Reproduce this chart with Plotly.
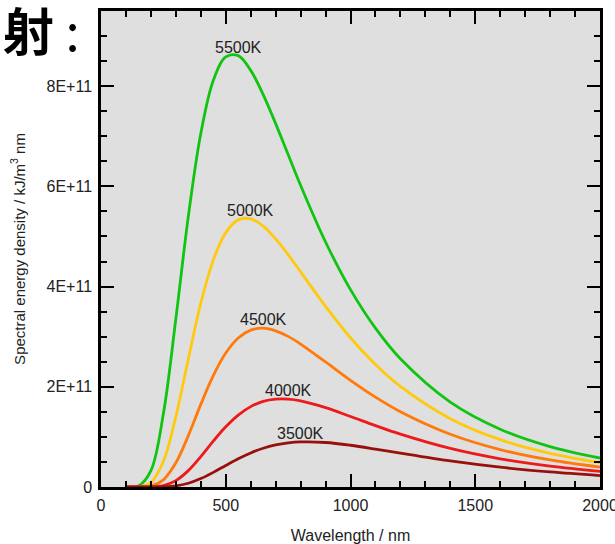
import plotly.graph_objects as go

# Wavelength samples (nm)
wavelength = [100, 150, 200, 250, 300, 350, 400, 450, 500, 550, 600, 650, 700,
              750, 800, 900, 1000, 1100, 1200, 1400, 1600, 1800, 2000]

# Spectral energy density, in units of 1E+11
t5500 = [0.0, 0.018, 0.326, 1.460, 3.357, 5.402, 7.056, 8.115, 8.584, 8.609, 8.315, 7.832, 7.252,
         6.636, 6.021, 4.890, 3.939, 3.170, 2.559, 1.695, 1.154, 0.807, 0.578]
t5000 = [0.0, 0.003, 0.088, 0.513, 1.404, 2.556, 3.667, 4.528, 5.077, 5.331, 5.352, 5.208, 4.951,
         4.638, 4.294, 3.606, 2.979, 2.446, 2.008, 1.364, 0.945, 0.670, 0.485]
t4500 = [0.0, 0.0, 0.018, 0.143, 0.483, 1.026, 1.649, 2.224, 2.673, 2.975, 3.131, 3.169, 3.117,
         3.006, 2.853, 2.495, 2.128, 1.793, 1.503, 1.054, 0.747, 0.539, 0.396]
t4000 = [0.0, 0.0, 0.002, 0.029, 0.128, 0.327, 0.607, 0.915, 1.201, 1.436, 1.604, 1.708, 1.753,
         1.754, 1.719, 1.584, 1.408, 1.225, 1.055, 0.770, 0.563, 0.415, 0.310]
t3500 = [0.0, 0.0, 0.0, 0.004, 0.023, 0.075, 0.168, 0.292, 0.430, 0.564, 0.680, 0.773, 0.839,
         0.880, 0.899, 0.888, 0.833, 0.757, 0.675, 0.520, 0.395, 0.300, 0.229]

series_names = ["5500K", "5000K", "4500K", "4000K", "3500K"]
series_values = [t5500, t5000, t4500, t4000, t3500]
series_colors = ["#12c412", "#ffc90e", "#ff7a0a", "#ec1a1a", "#98100c"]
UNIT = 1e11

y_tick_vals = [0, 2e11, 4e11, 6e11, 8e11]
y_tick_text = ["0", "2E+11", "4E+11", "6E+11", "8E+11"]
x_tick_vals = [0, 500, 1000, 1500, 2000]
x_tick_text = ["0", "500", "1000", "1500", "2000"]

FONT = "Liberation Sans, Arial, sans-serif"

fig = go.Figure()
for name, vals, col in zip(series_names, series_values, series_colors):
    yv = [v * UNIT for v in vals]
    fig.add_trace(go.Scatter(
        x=wavelength, y=yv, mode="lines", name=name,
        line=dict(color=col, width=2.8, shape="spline", smoothing=1.0),
        showlegend=False, hoverinfo="skip"))
    i = max(range(len(yv)), key=lambda k: yv[k])
    fig.add_annotation(
        x=wavelength[i], y=yv[i], xref="x", yref="y", text=name,
        showarrow=False, yanchor="bottom", yshift=-2,
        font=dict(family=FONT, size=16, color="#222222"))

fig.add_annotation(
    x=0, y=1.0, xref="paper", yref="paper", text="<b>射</b> :",
    showarrow=False, xanchor="left", yanchor="top", yshift=21, xshift=-100,
    font=dict(family="Noto Sans CJK SC", size=51, color="#000000"))

axis_common = dict(
    showline=True, linewidth=2.5, linecolor="black", mirror="ticks",
    ticks="inside", ticklen=13, tickwidth=2, tickcolor="black",
    showgrid=False, zeroline=False, automargin=False,
    ticklabeloverflow="allow",
    tickfont=dict(family=FONT, size=16, color="#222222"),
)

fig.update_layout(
    width=615, height=544,
    margin=dict(l=101, r=15, t=11, b=57),
    paper_bgcolor="white", plot_bgcolor="#dfdfdf",
)

fig.update_xaxes(
    range=[0, 2000], tickvals=x_tick_vals, ticktext=x_tick_text,
    minor=dict(dtick=100, ticks="inside", ticklen=6, tickwidth=2, tickcolor="black", showgrid=False),
    ticklabelstandoff=2,
    title=dict(text="Wavelength / nm", font=dict(family=FONT, size=16, color="#222222"), standoff=18),
    **axis_common)
fig.update_yaxes(
    range=[0, 9.5e11], tickvals=y_tick_vals, ticktext=y_tick_text,
    minor=dict(dtick=0.5e11, ticks="inside", ticklen=6, tickwidth=2, tickcolor="black", showgrid=False),
    ticklabelstandoff=3,
    title=dict(text="Spectral energy density / kJ/m<sup>3</sup> nm",
               font=dict(family=FONT, size=15, color="#222222"), standoff=18),
    **axis_common)

fig.write_html("out.html", config={"displayModeBar": False},
               post_script="document.body.style.margin='0';")
